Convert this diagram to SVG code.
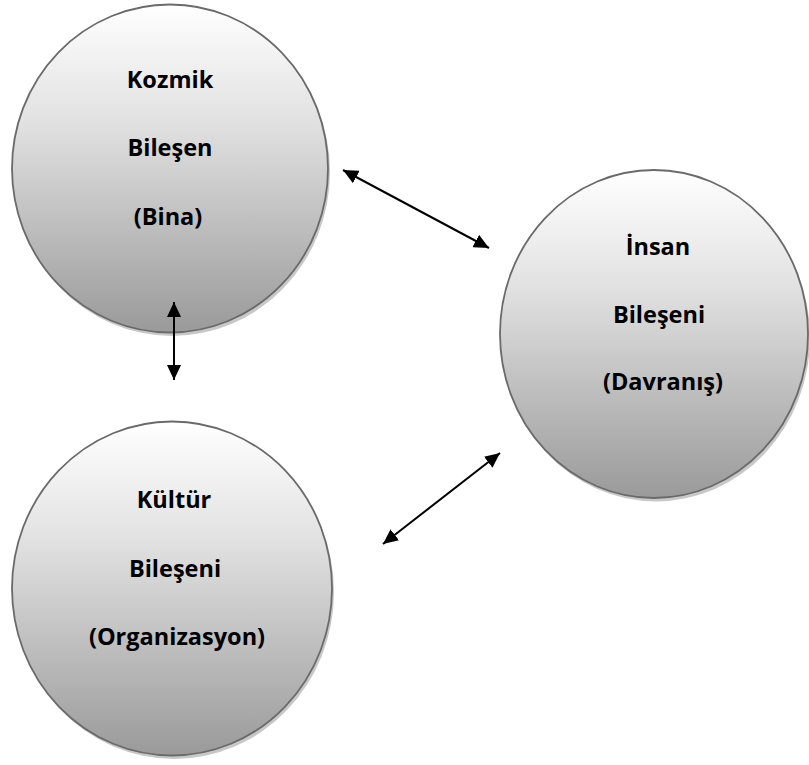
<svg xmlns="http://www.w3.org/2000/svg" width="809" height="765" viewBox="0 0 809 765">
  <defs>
    <linearGradient id="g" x1="0" y1="0" x2="0" y2="1">
      <stop offset="0" stop-color="#ffffff"/>
      <stop offset="0.35" stop-color="#e2e2e2"/>
      <stop offset="1" stop-color="#9a9a9a"/>
    </linearGradient>
    <marker id="ah" viewBox="0 0 15 14" refX="15" refY="7" markerWidth="7.5" markerHeight="7" markerUnits="strokeWidth" orient="auto-start-reverse">
      <path d="M0,0 L15,7 L0,14 Z" fill="#000"/>
    </marker>
  </defs>
  <style>
    .shadow { fill: #c8c8c8; }
    .circ { fill: url(#g); stroke: #6a6a6a; stroke-width: 1.8; }
    .lbl { font-family: "Open Sans", "Liberation Sans", sans-serif; font-weight: 700; font-size: 23.5px; fill: #000; text-anchor: middle; }
    .conn { stroke: #000; stroke-width: 2; fill: none; marker-start: url(#ah); marker-end: url(#ah); }
  </style>
  <rect width="809" height="765" fill="#fff"/>
  <g id="kozmik">
    <ellipse class="shadow" cx="172" cy="172" rx="158" ry="164"/>
    <ellipse class="circ" cx="170" cy="168.5" rx="158" ry="164"/>
    <text class="lbl" x="170" y="88">Kozmik</text>
    <text class="lbl" x="170" y="156">Bileşen</text>
    <text class="lbl" x="168" y="225">(Bina)</text>
  </g>
  <g id="kultur">
    <ellipse class="shadow" cx="174" cy="592" rx="160" ry="167"/>
    <ellipse class="circ" cx="172" cy="588.5" rx="160" ry="167"/>
    <text class="lbl" x="174" y="508">Kültür</text>
    <text class="lbl" x="175" y="577">Bileşeni</text>
    <text class="lbl" x="177" y="645">(Organizasyon)</text>
  </g>
  <g id="insan">
    <ellipse class="shadow" cx="656" cy="337.5" rx="154" ry="164"/>
    <ellipse class="circ" cx="654" cy="334" rx="154" ry="164"/>
    <text class="lbl" x="658" y="255">İnsan</text>
    <text class="lbl" x="659" y="323">Bileşeni</text>
    <text class="lbl" x="663" y="390">(Davranış)</text>
  </g>
  <g id="connectors">
    <line class="conn" x1="343" y1="170" x2="489" y2="248"/>
    <line class="conn" x1="500" y1="453" x2="383" y2="544"/>
    <line class="conn" x1="174" y1="302" x2="174" y2="380"/>
  </g>
</svg>
